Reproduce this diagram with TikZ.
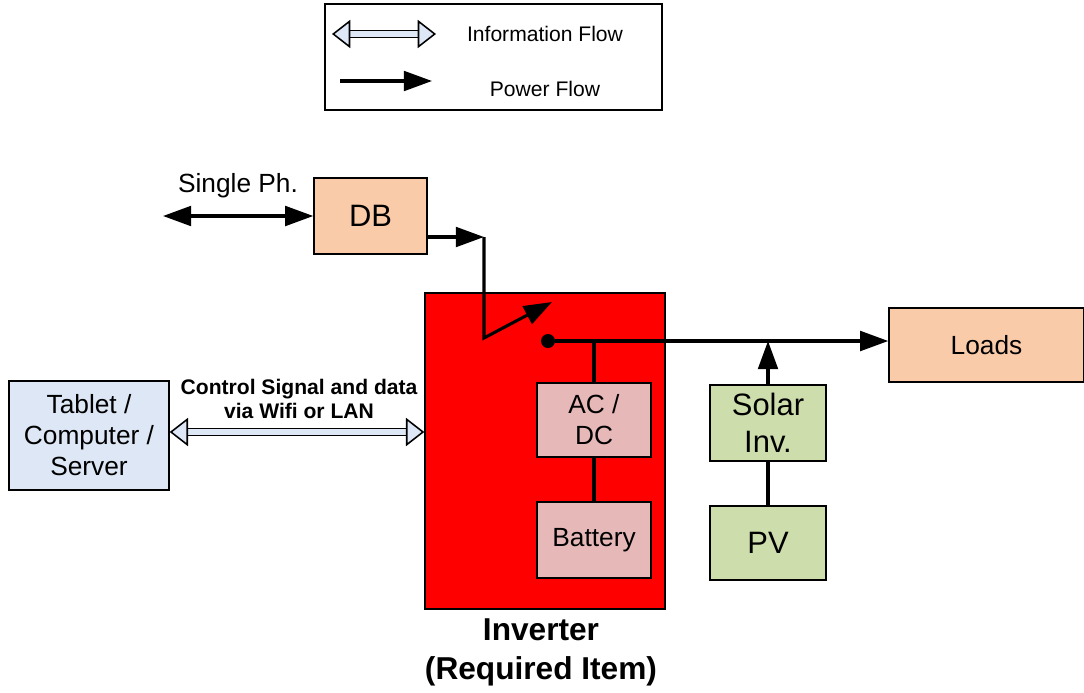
\documentclass[tikz,border=0pt]{standalone}
\usepackage{fontspec}
\setmainfont{Liberation Sans}
\usetikzlibrary{arrows.meta,positioning}

\definecolor{dbfill}{RGB}{250,203,168}
\definecolor{convfill}{RGB}{230,185,184}
\definecolor{solarfill}{RGB}{205,221,172}
\definecolor{infoblue}{RGB}{221,231,245}

\begin{document}
\begin{tikzpicture}[x=0.025cm, y=-0.025cm,
  box/.style={rectangle, draw, line width=1pt, align=center, font=\fontsize{18.7}{22}\selectfont},
  bigbox/.style={box, font=\fontsize{22}{26}\selectfont},
  power/.style={-{Triangle[length=20pt, width=14pt]}, line width=2.2pt},
  wire/.style={line width=2.2pt},
  info/.style={{Triangle[length=13pt, width=20pt, line width=1.1pt, fill=infoblue]}-{Triangle[length=13pt, width=20pt, line width=1.1pt, fill=infoblue]}, draw=black, line width=1.1pt, double=infoblue, double distance=3.6pt},
  legendtext/.style={font=\fontsize{15}{18}\selectfont}
]
  \useasboundingbox (0,0) rectangle (1084,692);

  % Legend
  \node[draw, line width=1pt, minimum width=8.425cm, minimum height=2.65cm] (legend) at (493.5,57) {};
  \coordinate (infoL) at (332,34);
  \coordinate (infoR) at (436,34);
  \coordinate (powL) at (340,81);
  \coordinate (powR) at (432,81);
  \draw[info] (infoL) -- (infoR);
  \draw[power] (powL) -- (powR);
  \node[legendtext] (infotext) at (545,34) {Information Flow};
  \node[legendtext] (powtext) at (545,89) {Power Flow};

  % Grid side
  \node[bigbox, fill=dbfill, minimum width=2.825cm, minimum height=1.9cm] (db) at (370.5,216) {DB};
  \coordinate (grid) at (163,216);
  \node[font=\fontsize{18.7}{22}\selectfont] (singleph) at (238,186) {Single Ph.};
  \draw[{Triangle[length=20pt, width=14pt]}-{Triangle[length=20pt, width=14pt]}, line width=2.2pt] (grid) -- (db);

  % Inverter
  \node[draw, line width=1pt, fill=red, minimum width=6cm, minimum height=7.9cm] (inv) at (545,451) {};
  \node[box, fill=convfill, minimum width=2.85cm, minimum height=1.85cm] (acdc) at (594,420) {AC /\\DC};
  \node[box, fill=convfill, minimum width=2.85cm, minimum height=1.9cm] (battery) at (594,540) {Battery};
  \node[font=\bfseries\fontsize{22.5}{27.7}\selectfont, align=center] (invlabel) at (541,652) {Inverter\\(Required Item)};

  % Switch
  \coordinate (swtop) at (484,237);
  \coordinate (swpivot) at (484,338);
  \coordinate (swtip) at (552,302);
  \node[circle, fill, inner sep=0pt, minimum size=0.35cm] (contact) at (548,341) {};
  \draw[power] (db.east |- swtop) -- (swtop);
  \draw[power] (swtop) -- (swpivot) -- (swtip);

  % Loads and solar
  \node[box, fill=dbfill, minimum width=4.875cm, minimum height=1.85cm] (loads) at (986.5,345) {Loads};
  \node[bigbox, fill=solarfill, minimum width=2.9cm, minimum height=1.9cm] (solar) at (768,423) {Solar\\Inv.};
  \node[bigbox, fill=solarfill, minimum width=2.9cm, minimum height=1.85cm] (pv) at (768,543) {PV};

  \draw[power] (contact) -- (contact -| loads.west);
  \draw[wire] (acdc.north |- contact) -- (acdc.north);
  \draw[wire] (acdc) -- (battery);
  \draw[power] (solar) -- (solar |- contact);
  \draw[wire] (pv) -- (solar);

  % Control side
  \node[box, fill=infoblue, minimum width=4cm, minimum height=2.725cm] (tablet) at (89,435.5) {Tablet /\\Computer /\\Server};
  \draw[info] (tablet.east |- 0,432) -- (inv.west |- 0,432);
  \node[font=\bfseries\fontsize{15}{17}\selectfont, align=center] (ctrl) at (299,399) {Control Signal and data\\via Wifi or LAN};
\end{tikzpicture}
\end{document}
